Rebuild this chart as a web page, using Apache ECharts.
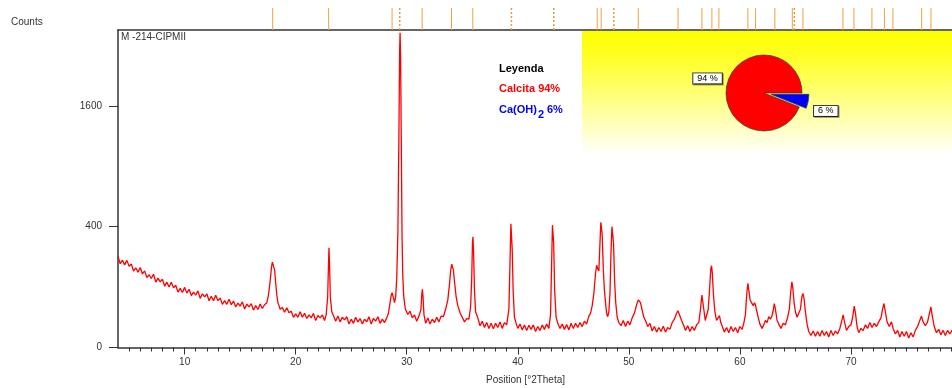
<!DOCTYPE html>
<html><head><meta charset="utf-8">
<script src="https://cdn.jsdelivr.net/npm/echarts@6/dist/echarts.min.js"></script>
<style>html,body{margin:0;padding:0;background:#fff}#c{width:952px;height:388px}</style>
</head><body><div id="c"></div>
<script>
// Diffractogram: [position °2Theta, counts]
const pattern = [
[4.0,227],[4.2,192],[4.4,209],[4.6,187],[4.8,208],[5.0,181],[5.2,191],[5.4,160],[5.6,174],[5.8,155],
[6.0,175],[6.2,148],[6.4,161],[6.6,134],[6.8,145],[7.0,131],[7.2,147],[7.4,117],[7.6,132],[7.8,118],
[8.0,128],[8.2,103],[8.4,117],[8.6,100],[8.8,117],[9.0,98],[9.2,106],[9.4,84],[9.6,96],[9.8,83],
[10.0,99],[10.2,81],[10.4,93],[10.6,74],[10.8,84],[11.0,75],[11.2,88],[11.4,66],[11.6,79],[11.8,70],
[12.0,79],[12.2,60],[12.4,72],[12.6,60],[12.8,75],[13.0,60],[13.2,67],[13.4,51],[13.6,60],[13.8,51],
[14.0,64],[14.2,50],[14.4,59],[14.6,45],[14.8,54],[15.0,47],[15.2,57],[15.4,40.5],[15.6,51.5],[15.8,45],
[16.0,52.5],[16.2,38.5],[16.4,48],[16.6,39.5],[16.8,52],[17.0,41.6],[17.2,50],
[17.4,55],[17.55,75],[17.7,120],[17.82,175],[17.9,200],[17.96,208],[18.02,195],[18.1,165],[18.2,115],[18.3,75],[18.4,55],[18.5,48],
[18.6,40],[18.8,44],[19.0,34],[19.2,43],[19.4,33],[19.6,36],[19.8,25],[20.0,31],[20.2,25],[20.4,35],
[20.6,25],[20.8,32],[21.0,23],[21.2,29],[21.4,24],[21.6,32],[21.8,20],[22.0,28],[22.2,24],[22.4,29],[22.6,20],
[22.75,30],[22.88,70],[22.95,180],[23.0,272],[23.05,190],[23.12,70],[23.25,35],[23.4,28],
[23.6,19],[23.8,27],[24.0,18],[24.2,25],[24.4,21],[24.6,26],[24.8,15],[25.0,22],[25.2,16],[25.4,25],
[25.6,18],[25.8,23],[26.0,15],[26.2,22],[26.4,18],[26.6,26],[26.8,15],[27.0,23],[27.2,19],[27.4,26],
[27.6,16],[27.8,22],[28.0,17],[28.2,24],
[28.35,32],[28.5,55],[28.6,75],[28.68,82],[28.78,70],[28.9,55],[29.0,70],[29.1,130],[29.2,350],[29.3,1300],
[29.36,2400],[29.4,2715],[29.45,2300],[29.52,1000],[29.58,330],[29.64,150],[29.72,75],[29.8,55],[29.88,40],[30.0,38],
[30.1,30],[30.3,36],[30.5,24],[30.7,29],[30.9,19],[31.1,27],
[31.28,40],[31.36,80],[31.41,93],[31.47,70],[31.55,30],
[31.7,16],[31.9,24],[32.1,15],[32.3,22],[32.5,17],[32.7,25],[32.9,18],[33.1,27],[33.3,26],
[33.5,40],[33.7,62],[33.85,110],[33.95,160],[34.05,190],[34.12,198],[34.2,165],[34.3,120],[34.45,70],[34.6,48],[34.8,33],
[35.0,25],[35.2,18],[35.4,23],[35.6,22],
[35.75,45],[35.85,130],[35.92,300],[35.96,335],[36.02,250],[36.1,90],[36.2,35],[36.4,24],
[36.6,13],[36.8,19],[37.0,11],[37.2,17],[37.4,10],[37.6,16],[37.8,9.5],[38.0,16],[38.2,11],[38.4,18],[38.6,10],[38.8,17],[39.0,14],
[39.2,40],[39.3,200],[39.38,420],[39.43,427],[39.5,260],[39.58,90],[39.7,25],[39.85,16],
[40.0,10],[40.2,15],[40.4,8.5],[40.6,14],[40.8,8],[41.0,13.5],[41.2,9],[41.4,14],[41.6,7],[41.8,12],
[42.0,8],[42.2,14],[42.4,9],[42.6,15],[42.8,10],
[42.95,30],[43.05,200],[43.12,410],[43.17,423],[43.23,300],[43.32,90],[43.45,25],
[43.6,16],[43.8,10],[44.0,15],[44.2,9],[44.4,14.5],[44.6,8.5],[44.8,16],[45.0,10],[45.2,16],[45.4,11],
[45.6,17],[45.8,12],[46.0,19],[46.2,15],[46.4,27],[46.55,32],[46.7,48],[46.85,80],[47.0,150],[47.1,185],
[47.2,170],[47.3,160],[47.4,300],[47.48,430],[47.53,438],[47.6,350],[47.7,170],[47.8,90],[47.9,55],[48.0,32],
[48.1,26],[48.2,35],[48.3,80],[48.4,260],[48.48,400],[48.55,395],[48.62,300],[48.72,120],[48.82,55],[48.95,25],
[49.1,17],[49.3,13],[49.5,20],[49.7,12],[49.9,19],[50.1,14],[50.3,24],[50.5,32],[50.7,50],[50.85,62],
[50.95,67],[51.05,55],[51.2,38],[51.35,25],[51.5,20],[51.7,12],[51.9,16],[52.1,7.5],[52.3,12],[52.5,6.5],
[52.7,11],[52.9,7],[53.1,12.5],[53.3,6.5],[53.5,11],[53.7,9],[53.9,17],[54.1,22],[54.3,32],[54.42,37],
[54.55,30],[54.75,20],[54.95,13],[55.1,8],[55.3,13],[55.5,7],[55.7,12],[55.9,8],[56.1,14],[56.3,17],
[56.45,40],[56.58,75],[56.65,78],[56.75,40],[56.88,20],[57.0,22],[57.15,40],[57.28,100],[57.38,170],[57.45,183],
[57.52,150],[57.62,75],[57.75,35],[57.9,20],[58.05,22],[58.16,28],[58.28,17],[58.45,11],[58.6,6.5],[58.8,11],
[59.0,6],[59.2,12],[59.4,7],[59.6,11],[59.8,6],[60.0,12],[60.2,9],[60.35,16],[60.5,30],[60.62,80],
[60.72,113],[60.8,90],[60.92,62],[61.05,55],[61.2,48],[61.32,55],[61.4,50],[61.5,38],[61.65,25],[61.8,15],
[62.0,10],[62.15,14],[62.3,20],[62.45,17],[62.6,26],[62.75,22],[62.9,28],[63.0,38],[63.1,53],[63.2,40],
[63.35,20],[63.5,15],[63.7,10],[63.9,16],[64.1,14],[64.3,25],[64.45,40],[64.58,85],[64.68,118],[64.76,100],
[64.88,55],[65.0,35],[65.15,25],[65.3,22],[65.45,40],[65.58,70],[65.68,80],[65.78,65],[65.9,35],[66.05,15],
[66.2,7],[66.4,4],[66.6,7.5],[66.8,3.5],[67.0,7],[67.2,3.5],[67.4,8],[67.6,4],[67.8,7],[68.0,3],
[68.2,8],[68.4,4],[68.6,7.5],[68.8,5],[69.0,10],[69.15,18],[69.3,29],[69.42,18],[69.6,8],[69.8,12],
[70.0,14],[70.15,25],[70.3,47],[70.42,30],[70.55,12],[70.7,6],[70.9,10],[71.1,8],[71.3,14],[71.5,10],
[71.7,17],[71.9,11],[72.1,16],[72.3,12],[72.5,18],[72.7,24],[72.85,40],[72.97,53],[73.1,35],[73.25,18],
[73.45,12],[73.65,18],[73.8,10],[74.0,5],[74.2,8],[74.4,3],[74.6,7],[74.8,3.5],[75.0,7],[75.2,2.5],
[75.4,6],[75.6,3],[75.8,8],[76.0,12],[76.2,20],[76.35,27],[76.5,18],[76.7,13],[76.9,18],[77.05,30],
[77.2,45],[77.32,28],[77.5,12],[77.7,6],[77.9,9],[78.1,4.5],[78.3,8],[78.5,4],[78.7,8],[78.9,5],[79.1,8],[79.3,6]
];
// Reference pattern stick positions (°2Theta)
const sticksSolid = [17.93,22.97,28.68,31.39,34.03,35.95,47.15,47.51,50.85,54.43,56.58,57.48,58.11,60.72,61.41,63.15,64.72,65.68,69.28,70.27,71.89,73.01,73.78,76.37,77.21];
const sticksDashed = [29.37,39.43,43.24,48.65,64.9];
const xLabelValues = [10,20,30,40,50,60,70];
const xMinorTicks = [5,6,7,8,9,10,11,12,13,14,15,16,17,18,19,20,21,22,23,24,25,26,27,28,29,30,31,32,33,34,35,36,37,38,39,40,41,42,43,44,45,46,47,48,49,50,51,52,53,54,55,56,57,58,59,60,61,62,63,64,65,66,67,68,69,70,71,72,73,74,75,76,77,78,79];
const yTickCounts = [0,400,1600];
const pieNames = ['Calcita','Ca(OH)2'];
const pieValues = [94,6];
const pieColors = ['#ff0000','#0000ff'];
const sampleName = 'M -214-CIPMII';
const legendTitle = 'Leyenda';
const legendCalcita = 'Calcita 94%';
const legendPortlandite = ['Ca(OH)', '2', '6%'];

const FONT = "'Liberation Sans', Arial, sans-serif";
const X_MIN = 4.0, X_MAX = 79.1, YS_MAX = 52.55;

const chart = echarts.init(document.getElementById('c'), null, {renderer:'canvas'});

function stickItem(dashed){
  return function(params, api){
    const x = api.value(0);
    const p0 = api.coord([x,0]);
    const p1 = api.coord([x,1]);
    return {type:'line', shape:{x1:p0[0],y1:p0[1],x2:p1[0],y2:p1[1]},
      style:{stroke: dashed ? '#e89a3a' : '#eea040', lineWidth: dashed?1.5:1, lineDash: dashed?[2,2]:null}};
  };
}

const option = {
  animation:false,
  backgroundColor:'#ffffff',
  textStyle:{fontFamily:FONT},
  grid:[
    {left:118, right:0, top:30, bottom:40.5, outerBoundsMode:'none', containLabel:false},
    {left:118, right:0, top:8, height:22, outerBoundsMode:'none', containLabel:false},
    {left:118, right:0, top:30, bottom:40.5, outerBoundsMode:'none', containLabel:false}
  ],
  xAxis:[
    {type:'value', gridIndex:0, min:X_MIN, max:X_MAX, position:'bottom',
     axisLine:{show:true, onZero:false, lineStyle:{color:'#333', width:1.5}},
     axisTick:{show:true, customValues:xMinorTicks, length:4, lineStyle:{color:'#333'}},
     axisLabel:{customValues:xLabelValues, fontSize:10, color:'#333', margin:10, fontFamily:FONT},
     splitLine:{show:false}},
    {type:'value', gridIndex:1, min:X_MIN, max:X_MAX, position:'bottom',
     axisLine:{show:true, onZero:false, lineStyle:{color:'#333', width:1.5}},
     axisTick:{show:false}, axisLabel:{show:false}, splitLine:{show:false}},
    {type:'value', gridIndex:2, min:X_MIN, max:X_MAX, position:'bottom',
     axisLine:{show:false, onZero:false},
     axisTick:{show:true, customValues:xLabelValues, length:7, lineStyle:{color:'#333'}},
     axisLabel:{show:false}, splitLine:{show:false}}
  ],
  yAxis:[
    {type:'value', gridIndex:0, min:0, max:YS_MAX,
     axisLine:{show:true, onZero:false, lineStyle:{color:'#333', width:1.5}},
     axisTick:{show:true, customValues:yTickCounts.map(Math.sqrt), length:9, lineStyle:{color:'#333'}},
     axisLabel:{customValues:yTickCounts.map(Math.sqrt), formatter:v=>String(Math.round(v*v)), fontSize:10, color:'#333', margin:16, fontFamily:FONT},
     splitLine:{show:false}},
    {type:'value', gridIndex:1, min:0, max:1, show:false},
    {type:'value', gridIndex:2, min:0, max:1, show:false}
  ],
  graphic:[
    {type:'rect', z:0, silent:true, shape:{x:582, y:31, width:370, height:124},
     style:{fill:new echarts.graphic.LinearGradient(0,0,0,1,[{offset:0,color:'#ffff00'},{offset:0.2,color:'#ffff22'},{offset:1,color:'#ffffff'}])}},
    {type:'text', left:11, top:17, z:10, style:{text:'Counts', font:'10px '+FONT, fill:'#333'}},
    {type:'text', left:121, top:32, z:10, style:{text:sampleName, font:'10px '+FONT, fill:'#333'}},
    {type:'text', left:499, top:63, z:10, style:{text:legendTitle, font:'bold 11px '+FONT, fill:'#000'}},
    {type:'text', left:499, top:83, z:10, style:{text:legendCalcita, font:'bold 11px '+FONT, fill:'#ff0000'}},
    {type:'text', left:499, top:104, z:10, style:{text:legendPortlandite[0], font:'bold 11px '+FONT, fill:'#0000ff'}},
    {type:'text', left:538, top:109, z:10, style:{text:legendPortlandite[1], font:'bold 11px '+FONT, fill:'#0000ff'}},
    {type:'text', left:547, top:104, z:10, style:{text:legendPortlandite[2], font:'bold 11px '+FONT, fill:'#0000ff'}},
    {type:'text', left:486, top:375, z:10, style:{text:'Position [°2Theta]', font:'10px '+FONT, fill:'#333'}}
  ],
  series:[
    {type:'line', xAxisIndex:0, yAxisIndex:0, data:pattern.map(p=>[p[0], Math.sqrt(p[1])]),
     showSymbol:false, symbol:'none', lineStyle:{color:'#ff0000', width:1.3}, z:3, clip:true, silent:true},
    {type:'custom', xAxisIndex:1, yAxisIndex:1, data:sticksSolid.map(v=>[v]), renderItem:stickItem(false), silent:true, z:4},
    {type:'custom', xAxisIndex:1, yAxisIndex:1, data:sticksDashed.map(v=>[v]), renderItem:stickItem(true), silent:true, z:4},
    {type:'pie', center:[764,93], radius:38, startAngle:338.4, clockwise:true,
     selectedMode:'single', selectedOffset:7, avoidLabelOverlap:false, z:5, silent:true,
     itemStyle:{borderColor:'#333', borderWidth:0.7},
     label:{show:true, position:'outside', formatter:p=>p.value+' %', fontSize:9, color:'#000', fontFamily:FONT,
            backgroundColor:'#ffffff', borderColor:'#333', borderWidth:1, padding:[1,4,0,4],
            shadowColor:'rgba(0,0,0,0.35)', shadowOffsetX:1, shadowOffsetY:1, shadowBlur:0},
     labelLine:{show:false, length:8, length2:0},
     labelLayout:function(p){ return p.dataIndex===0 ? {dx:8, dy:-6} : {dx:-7, dy:8}; },
     emphasis:{disabled:true},
     data:pieValues.map((v,i)=>({name:pieNames[i], value:v, selected:i===1, itemStyle:{color:pieColors[i]}}))}
  ]
};
chart.setOption(option);
</script>
</body></html>
